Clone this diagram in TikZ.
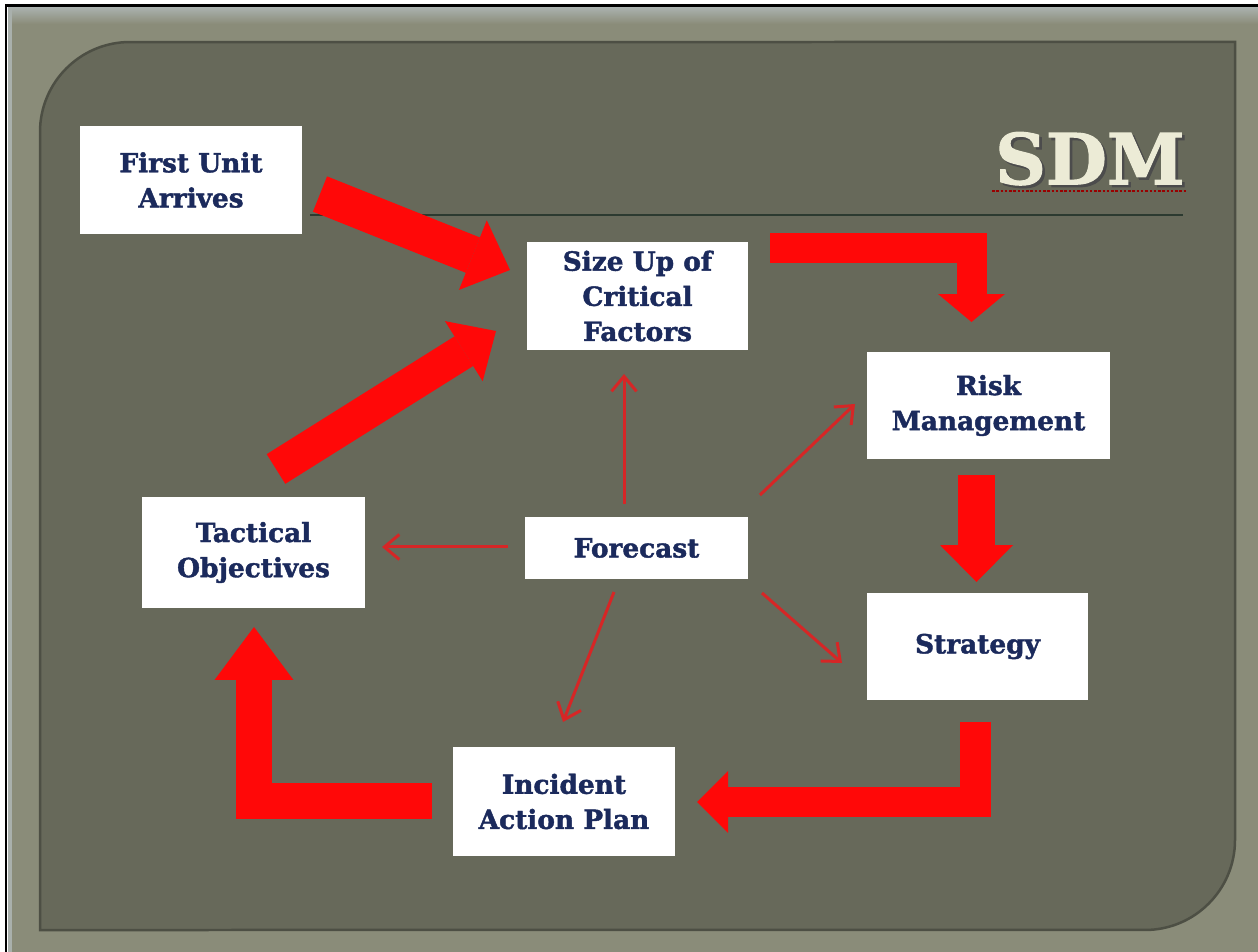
\documentclass[tikz,border=0pt]{standalone}
\usepackage{fontspec}
\setmainfont{DejaVu Serif}[BoldFeatures={FakeBold=1.6}]
\usetikzlibrary{arrows.meta}

\definecolor{framegray}{HTML}{8A8C79}
\definecolor{framelight}{HTML}{A9B0AC}
\definecolor{panelgray}{HTML}{67695A}
\definecolor{boxtext}{HTML}{1B2A5C}
\definecolor{arrowred}{HTML}{FF0808}
\definecolor{thinred}{HTML}{D62626}
\definecolor{titlecream}{HTML}{ECEBD6}
\definecolor{rulegreen}{HTML}{2C3A30}

\tikzset{
  box/.style={fill=white, text=boxtext, align=center, inner sep=0pt,
    font=\fontsize{15}{20}\selectfont\bfseries},
  blockarrow/.style={draw=arrowred, line width=#1, line join=miter},
  thinarrow/.style={draw=thinred, line width=0.06cm,
    -{Straight Barb[length=0.3cm, width=0.5cm]}}
}

\begin{document}
\begin{tikzpicture}[x=0.02cm, y=-0.02cm]
  \useasboundingbox (0,0) rectangle (1258,952);

  % Drawing page and frame
  \fill [white] (0,0) rectangle (1258,952);%
  \fill [framegray] (8,8) rectangle (1258,952);%
  \shade [top color=framelight, bottom color=framegray] (8,8) rectangle (1258,24);%
  \fill [framelight] (8,8) rectangle (12,952);%
  \draw [line width=0.06cm] (6,952) -- (6,6) -- (1258,6);%

  % Drawing panel with two round corners
  \fill [panelgray, draw=panelgray!75!black, line width=0.05cm]
    (40,930) -- (40,132) arc [start angle=180, end angle=90, radius=1.8cm]
    -- (1235,42) -- (1235,840) arc [start angle=0, end angle=-90, radius=1.8cm]
    -- cycle;%

  % Drawing title (with its shadow) and rule
  \node [text=titlecream, font=\fontsize{40}{40}\selectfont\bfseries] (title) at (1090,160)
    {\rlap{\hspace{1.5pt}\raisebox{-1.5pt}{\color{black!70}SDM}}SDM};%
  \draw [densely dotted, line width=0.05cm, red!60!black] (992,191) -- (1186,191);%
  \draw [line width=0.04cm, rulegreen] (310,215) -- (1183,215);%

  % Drawing boxes
  \node [box, minimum width=4.44cm, minimum height=2.16cm] (first) at (191,180) {First Unit\\Arrives};%
  \node [box, minimum width=4.42cm, minimum height=2.16cm] (sizeup) at (637.5,296) {Size Up of\\Critical\\Factors};%
  \node [box, minimum width=4.86cm, minimum height=2.14cm] (risk) at (988.5,405.5) {Risk\\Management};%
  \node [box, minimum width=4.46cm, minimum height=2.22cm] (tactical) at (253.5,552.5) {Tactical\\Objectives};%
  \node [box, minimum width=4.46cm, minimum height=1.24cm] (forecast) at (636.5,548) {Forecast};%
  \node [box, minimum width=4.42cm, minimum height=2.14cm] (strategy) at (977.5,646.5) {Strategy};%
  \node [box, minimum width=4.44cm, minimum height=2.18cm] (iap) at (564,801.5) {Incident\\Action Plan};%

  % Ends of the block arrows
  \coordinate (firstTail) at (320,194);
  \coordinate (sizeupTipA) at (510,270);
  \coordinate (tacticalTail) at (276,469);
  \coordinate (sizeupTipB) at (496,331);
  \coordinate (sizeupTail) at (770,248);
  \coordinate (riskTip) at (971.5,322);
  \coordinate (riskTail) at (976.5,475);
  \coordinate (strategyTip) at (976.5,582);
  \coordinate (strategyTail) at (975.5,722);
  \coordinate (iapTip) at (697,802);
  \coordinate (iapTail) at (432,801);
  \coordinate (tacticalTip) at (254,627);

  % Drawing block arrows
  \draw [blockarrow=0.76cm, -{Triangle[length=0.8cm, width=1.5cm, line width=0pt]}] (firstTail) -- (sizeupTipA);%
  \draw [blockarrow=0.7cm, -{Triangle[length=0.76cm, width=1.42cm, line width=0pt]}] (tacticalTail) -- (sizeupTipB);%
  \draw [blockarrow=0.6cm, -{Triangle[length=0.56cm, width=1.34cm, line width=0pt]}] (sizeupTail) -| (riskTip);%
  \draw [blockarrow=0.74cm, -{Triangle[length=0.74cm, width=1.46cm, line width=0pt]}] (riskTail) -- (strategyTip);%
  \draw [blockarrow=0.62cm, -{Triangle[length=0.62cm, width=1.24cm, line width=0pt]}] (strategyTail) |- (iapTip);%
  \draw [blockarrow=0.72cm, -{Triangle[length=1.06cm, width=1.58cm, line width=0pt]}] (iapTail) -| (tacticalTip);%

  % Ends of the forecast arrows
  \coordinate (fcNorth) at (624,504);
  \coordinate (sizeupBelow) at (624,374);
  \coordinate (fcNorthEast) at (760,495);
  \coordinate (riskLeft) at (855,404);
  \coordinate (fcWest) at (508,547);
  \coordinate (tacticalRight) at (382,547);
  \coordinate (fcSouth) at (614,592);
  \coordinate (iapAbove) at (563,722);
  \coordinate (fcSouthEast) at (762,593);
  \coordinate (strategyLeft) at (842,663);

  % Drawing forecast arrows
  \draw [thinarrow] (fcNorth) -- (sizeupBelow);%
  \draw [thinarrow] (fcNorthEast) -- (riskLeft);%
  \draw [thinarrow] (fcWest) -- (tacticalRight);%
  \draw [thinarrow] (fcSouth) -- (iapAbove);%
  \draw [thinarrow] (fcSouthEast) -- (strategyLeft);%
\end{tikzpicture}
\end{document}
